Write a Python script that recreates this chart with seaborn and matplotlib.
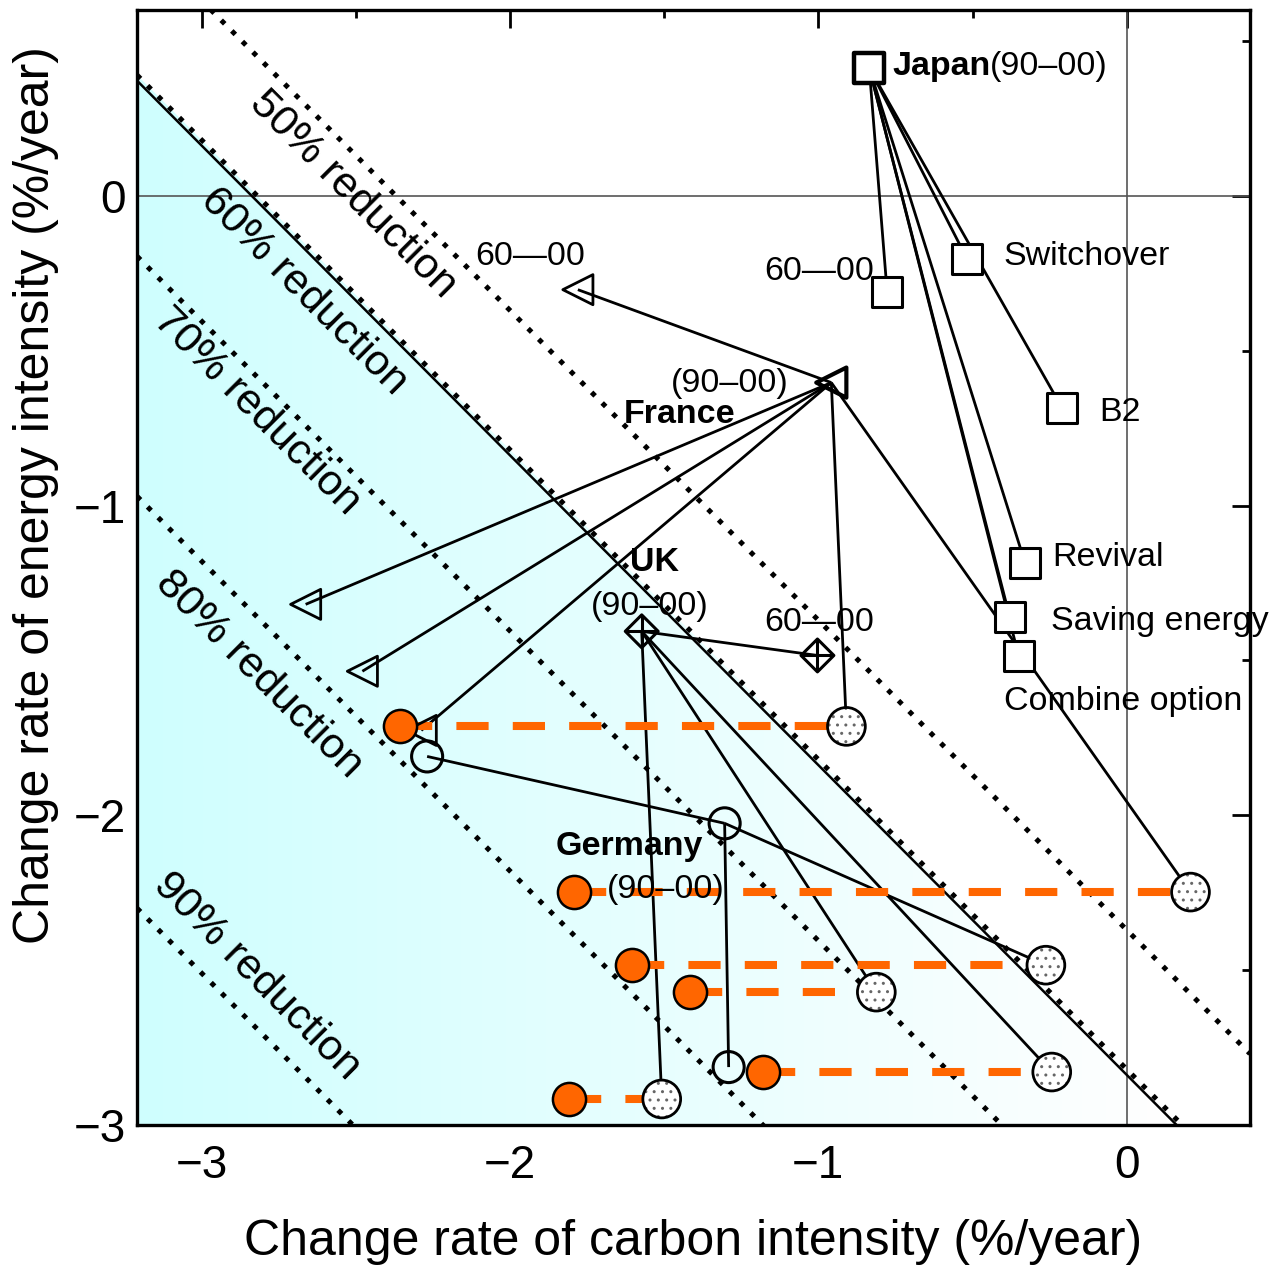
import matplotlib
matplotlib.use('Agg')
import matplotlib.pyplot as plt
import seaborn as sns
import numpy as np
import pandas as pd
from matplotlib.patches import Polygon
from matplotlib.colors import LinearSegmentedColormap

# ---- data ----
# emission-reduction iso-lines: carbon + energy = const
reduction_labels = ['50% reduction', '60% reduction', '70% reduction', '80% reduction', '90% reduction']
reduction_const = [-2.37, -2.82, -3.405, -4.18, -5.51]
reduction_label_x = [-2.511, -2.67, -2.82, -2.816, -2.82]
reduction_label_y = [0.003, -0.31, -0.697, -1.545, -2.52]

japan_base = (-0.835, 0.413)
japan_6000 = (-0.777, -0.31)
japan_scen_names = ['Switchover', 'B2', 'Revival', 'Saving energy', 'Combine option']
japan_scen_x = [-0.518, -0.21, -0.33, -0.379, -0.35]
japan_scen_y = [-0.203, -0.684, -1.184, -1.361, -1.487]

france_base = (-0.958, -0.603)
france_6000 = (-1.78, -0.303)
france_scen_x = [-2.663, -2.479, -2.288]
france_scen_y = [-1.319, -1.535, -1.726]

uk_base = (-1.573, -1.406)
uk_6000 = (-1.003, -1.484)

germany_base = (-1.304, -2.026)
germany_other_x = [-2.269, -1.291]
germany_other_y = [-1.81, -2.813]

# 2050 scenario points (dotted circles) and their low-carbon counterparts (orange)
scen_x = [-0.909, 0.207, -0.262, -0.812, -0.243, -1.508]
scen_y = [-1.713, -2.248, -2.484, -2.571, -2.829, -2.916]
scen_owner = ['France', 'France', 'Germany', 'UK', 'UK', 'UK']
orange_x = [-2.356, -1.793, -1.605, -1.417, -1.181, -1.809]

xlim = (-3.21, 0.40)
ylim = (-3.0, 0.60)

sns.set_theme(style='white')
plt.rcParams['font.family'] = ['Liberation Sans', 'DejaVu Sans']
plt.rcParams['axes.unicode_minus'] = True
plt.rcParams['text.color'] = 'black'
plt.rcParams['axes.labelcolor'] = 'black'
plt.rcParams['xtick.color'] = 'black'
plt.rcParams['ytick.color'] = 'black'

fig = plt.figure(figsize=(12.74, 12.66), dpi=100)
ax = fig.add_axes([137 / 1274, (1266 - 1125) / 1266, (1250 - 137) / 1274, (1125 - 10) / 1266])

# gradient shading below the 60% line
c60 = reduction_const[1]
cmap = LinearSegmentedColormap.from_list('cy', ['#cffefe', '#ffffff'])
grad = np.linspace(0, 1, 256)[None, :]
im = ax.imshow(grad, extent=[xlim[0], 0.15, ylim[0], ylim[1]], aspect='auto',
               cmap=cmap, zorder=0, interpolation='bilinear')
clip = Polygon([(xlim[0], c60 - xlim[0]), (xlim[0], ylim[0]), (c60 - ylim[0], ylim[0])],
               closed=True, transform=ax.transData, fc='none', ec='none')
ax.add_patch(clip)
im.set_clip_path(clip)

ax.axhline(0, color='#555555', lw=1.2, zorder=1)
ax.axvline(0, color='#555555', lw=1.2, zorder=1)

# iso-lines
xs = np.array(xlim)
for i, c in enumerate(reduction_const):
    ax.plot(xs, c - xs, color='black', lw=3.6, ls=(0, (1, 2.0)), zorder=2)
    if i == 1:
        ax.plot(xs, c - xs - 0.018, color='black', lw=1.8, zorder=2)
    ax.text(reduction_label_x[i], reduction_label_y[i], reduction_labels[i], rotation=-45,
            rotation_mode='anchor', ha='center', va='center', fontsize=31, zorder=3)

lw_link = 2.0


def link(p0, xs_, ys_):
    for x1, y1 in zip(xs_, ys_):
        ax.plot([p0[0], x1], [p0[1], y1], color='black', lw=lw_link, zorder=4,
                solid_capstyle='butt')


# connecting lines
link(japan_base, [japan_6000[0]] + japan_scen_x, [japan_6000[1]] + japan_scen_y)
link(france_base, [france_6000[0]] + france_scen_x, [france_6000[1]] + france_scen_y)
link(uk_base, [uk_6000[0]], [uk_6000[1]])
link(germany_base, germany_other_x, germany_other_y)
for sx, sy, own in zip(scen_x, scen_y, scen_owner):
    base = {'France': france_base, 'UK': uk_base, 'Germany': germany_base}[own]
    link(base, [sx], [sy])

# orange dashed links
for ox, sx, sy in zip(orange_x, scen_x, scen_y):
    ax.plot([ox, sx], [sy, sy], color='#ff6600', lw=5.8, ls=(0, (4.0, 3.0)), zorder=4.5,
            solid_capstyle='butt')

# markers
sq = pd.DataFrame({'x': japan_scen_x + [japan_6000[0]], 'y': japan_scen_y + [japan_6000[1]]})
sns.scatterplot(data=sq, x='x', y='y', marker='s', s=480, color='white', edgecolor='black',
                linewidth=2.2, ax=ax, zorder=5)
sns.scatterplot(x=[japan_base[0]], y=[japan_base[1]], marker='s', s=480, color='white',
                edgecolor='black', linewidth=3.2, ax=ax, zorder=5)

tri = pd.DataFrame({'x': france_scen_x + [france_6000[0]], 'y': france_scen_y + [france_6000[1]]})
sns.scatterplot(data=tri, x='x', y='y', marker='<', s=470, color='none', edgecolor='black',
                linewidth=2.0, ax=ax, zorder=5)
sns.scatterplot(x=[france_base[0]], y=[france_base[1]], marker='<', s=470, color='none',
                edgecolor='black', linewidth=3.0, ax=ax, zorder=5)

uk = pd.DataFrame({'x': [uk_base[0], uk_6000[0]], 'y': [uk_base[1], uk_6000[1]]})
sns.scatterplot(data=uk, x='x', y='y', marker='D', s=280, color='none', edgecolor='black',
                linewidth=2.2, ax=ax, zorder=5)
sns.scatterplot(data=uk, x='x', y='y', marker='+', s=560, color='black', linewidth=2.2,
                ax=ax, zorder=5)

ge = pd.DataFrame({'x': [germany_base[0]] + germany_other_x, 'y': [germany_base[1]] + germany_other_y})
sns.scatterplot(data=ge, x='x', y='y', marker='o', s=500, color='none', edgecolor='black',
                linewidth=2.2, ax=ax, zorder=5)

sc = pd.DataFrame({'x': scen_x, 'y': scen_y})
plt.rcParams['hatch.linewidth'] = 1.0
sns.scatterplot(data=sc, x='x', y='y', marker='o', s=740, color='white', edgecolor='#666666',
                linewidth=0, hatch='..', ax=ax, zorder=6)
sns.scatterplot(data=sc, x='x', y='y', marker='o', s=740, color='none', edgecolor='black',
                linewidth=2.0, ax=ax, zorder=6)

org = pd.DataFrame({'x': orange_x, 'y': scen_y})
sns.scatterplot(data=org, x='x', y='y', marker='o', s=570, color='#ff6600', edgecolor='black',
                linewidth=1.8, ax=ax, zorder=6)

# annotations
fs = 24.5
jt = ax.text(-0.761, 0.419, 'Japan', fontsize=fs, fontweight='bold', ha='left', va='center', zorder=7)
ax.annotate('(90–00)', xy=(1, 0.5), xycoords=jt, ha='left', va='center', fontsize=fs, zorder=7)
ax.text(-1.935, -0.197, '60—00', fontsize=fs, ha='center', va='center', zorder=7)
ax.text(-0.997, -0.245, '60—00', fontsize=fs, ha='center', va='center', zorder=7)
ax.text(-0.997, -1.377, '60—00', fontsize=fs, ha='center', va='center', zorder=7)
name_x = [-0.398, -0.09, -0.243, -0.246, -0.398]
name_y = [-0.197, -0.70, -1.168, -1.374, -1.632]
for nm, nx, ny in zip(japan_scen_names, name_x, name_y):
    ax.text(nx, ny, nm, fontsize=fs, ha='left', va='center', zorder=7)
ax.text(-1.288, -0.606, '(90–00)', fontsize=fs, ha='center', va='center', zorder=7)
ax.text(-1.45, -0.706, 'France', fontsize=fs, fontweight='bold', ha='center', va='center', zorder=7)
ax.text(-1.531, -1.184, 'UK', fontsize=fs, fontweight='bold', ha='center', va='center', zorder=7)
ax.text(-1.547, -1.326, '(90–00)', fontsize=fs, ha='center', va='center', zorder=7)
ax.text(-1.612, -2.10, 'Germany', fontsize=fs, fontweight='bold', ha='center', va='center', zorder=7)
ax.text(-1.495, -2.239, '(90–00)', fontsize=fs, ha='center', va='center', zorder=7)

# axes
ax.set_xlim(*xlim)
ax.set_ylim(*ylim)
ax.set_xticks([-3, -2, -1, 0])
ax.set_yticks([-3, -2, -1, 0])
ax.set_xticks(np.arange(-3, 0.5, 0.5), minor=True)
ax.set_yticks(np.arange(-3, 0.6, 0.5), minor=True)
ax.tick_params(which='both', direction='in', top=True, right=True, width=2, color='black',
               labelsize=33, pad=8)
ax.tick_params(axis='x', which='major', pad=14)
ax.tick_params(which='major', length=13)
ax.tick_params(which='minor', length=6)
for sp in ax.spines.values():
    sp.set_color('black')
    sp.set_linewidth(2.4)
ax.set_xlabel('Change rate of carbon intensity (%/year)', fontsize=36, labelpad=22)
ax.set_ylabel('Change rate of energy intensity (%/year)', fontsize=36)
ax.yaxis.set_label_coords(-0.07, 0.565)
ax.grid(False)

fig.savefig('out.png', dpi=100, facecolor='white')
